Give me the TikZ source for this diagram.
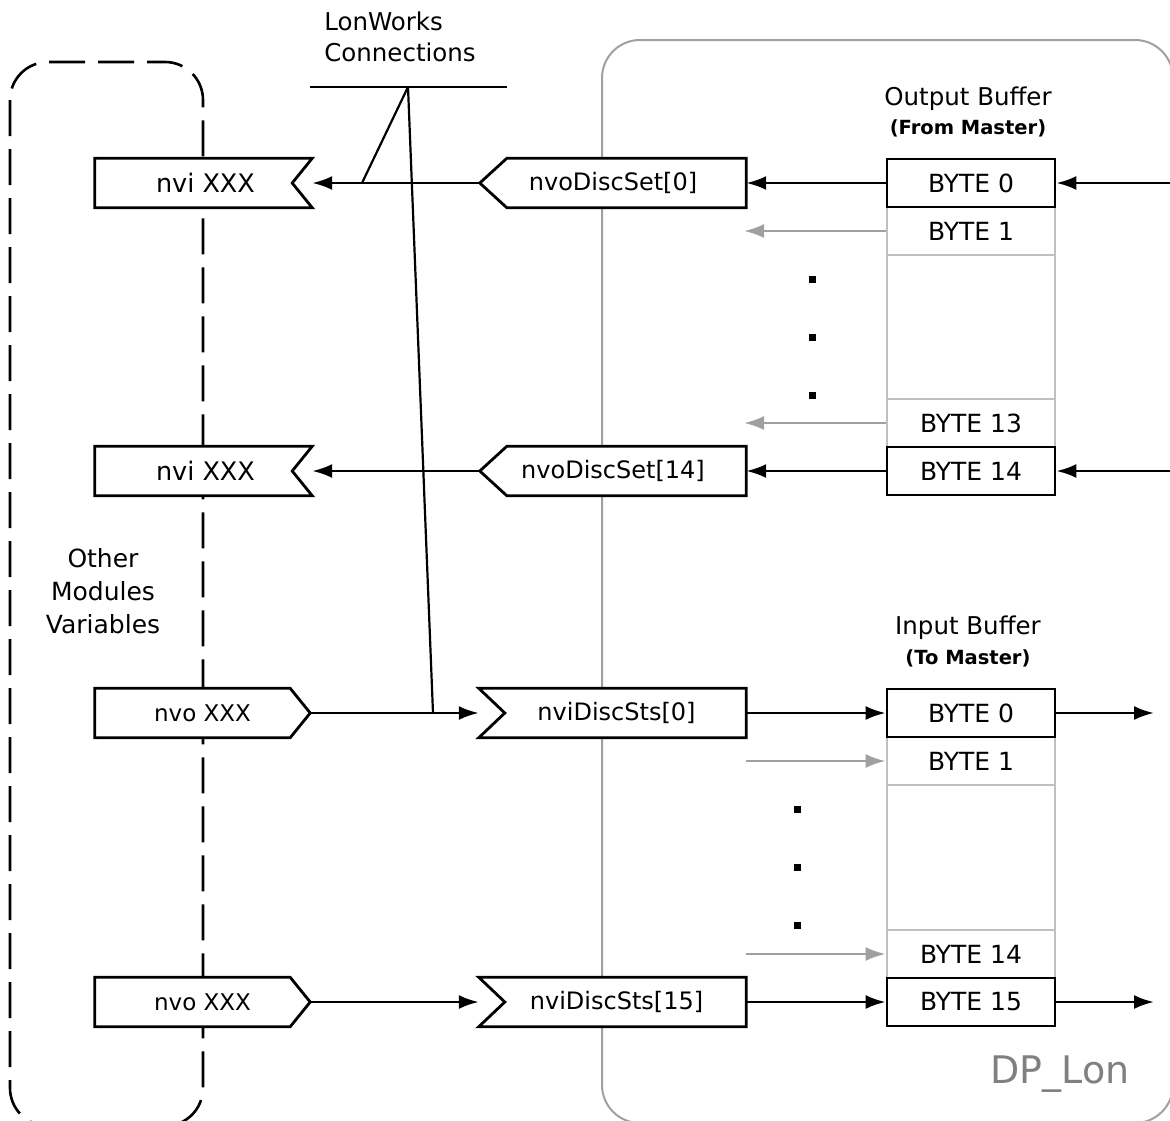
\documentclass[tikz,border=0pt]{standalone}
\usepackage{fontspec}
\setmainfont{DejaVu Sans}
\usetikzlibrary{arrows.meta}
\definecolor{boxgray}{HTML}{A0A0A0}
\definecolor{cellgray}{HTML}{C0C0C0}
\definecolor{dpgray}{HTML}{808080}
\begin{document}
\begin{tikzpicture}[x=1pt,y=-1pt,
  lbl/.style={font=\fontsize{24}{28}\selectfont, inner sep=0pt, minimum height=49pt},
  varline/.style={line width=2.8pt, draw=black, fill=white, line join=miter},
  cellg/.style={draw=cellgray, line width=2.8pt, fill=white, minimum width=168pt, inner sep=0pt, font=\fontsize{25}{29}\selectfont},
  cellb/.style={draw=black, line width=2.8pt, fill=white, minimum width=168pt, minimum height=48pt, inner sep=0pt, font=\fontsize{25}{29}\selectfont},
  arr/.style={line width=2.6pt, draw=black, -{Latex[length=20pt,width=14pt]}},
  garr/.style={line width=2.6pt, draw=boxgray, -{Latex[length=20pt,width=14pt]}},
  wire/.style={line width=2.2pt, draw=black},
  txt/.style={font=\fontsize{24.5}{31}\selectfont, inner sep=0pt},
  subtxt/.style={font=\bfseries\fontsize{19.5}{22}\selectfont, inner sep=0pt},
  dotsq/.style={fill=black}
]
\useasboundingbox (0,0) rectangle (1170,1120);

% containers
\draw[boxgray, line width=2pt, rounded corners=38pt] (602,40) rectangle (1173,1123);
\draw[black, line width=2.6pt, dash pattern=on 36pt off 13pt, rounded corners=38pt] (10,62) rectangle (203,1126);

% texts
\node[txt, align=left] (lwtxt) at (400,37) {LonWorks\\Connections};
\node[txt, font=\fontsize{25}{33}\selectfont, align=center] (other) at (103,591) {Other\\Modules\\Variables};
\node[txt] (obuf) at (968,99) {Output Buffer};
\node[subtxt] (ofrom) at (968,128) {(From Master)};
\node[txt] (ibuf) at (968,628) {Input Buffer};
\node[subtxt] (ito) at (968,658) {(To Master)};
\node[font=\fontsize{38}{42}\selectfont, text=dpgray, inner sep=0pt] (dplon) at (1060,1074) {DP\_Lon};

% LonWorks connection lines
\coordinate (lwL) at (310,87);
\coordinate (lwR) at (507,87);
\coordinate (lwJ) at (408,87);
\coordinate (j1) at (362,183);
\coordinate (j2) at (433,713);
\draw[wire] (lwL) -- (lwR);
\draw[wire] (lwJ) -- (j1);
\draw[wire] (lwJ) -- (j2);

% output side: left variables
\node[lbl, minimum width=217pt] (nviA) at (203.5,183) {};
\node[lbl, minimum width=217pt] (nviB) at (203.5,471) {};
\foreach \n in {nviA,nviB}{
  \draw[varline] (\n.north west) -- (\n.north east) -- ([xshift=-20pt]\n.east) -- (\n.south east) -- (\n.south west) -- cycle;
}
\node[lbl, font=\fontsize{25.5}{29}\selectfont] (nviAt) at ([xshift=2pt]nviA) {nvi XXX};
\node[lbl, font=\fontsize{25.5}{29}\selectfont] (nviBt) at ([xshift=2pt]nviB) {nvi XXX};

% output side: nvoDiscSet
\node[lbl, minimum width=266pt] (setA) at (613,183) {};
\node[lbl, minimum width=266pt] (setB) at (613,471) {};
\foreach \n in {setA,setB}{
  \draw[varline] (\n.west) -- ([xshift=27pt]\n.north west) -- (\n.north east) -- (\n.south east) -- ([xshift=27pt]\n.south west) -- cycle;
}
\node[lbl] (setAt) at (setA) {nvoDiscSet[0]};
\node[lbl] (setBt) at (setB) {nvoDiscSet[14]};

% input side: left variables
\node[lbl, minimum width=215pt] (nvoA) at (202.5,713) {};
\node[lbl, minimum width=215pt] (nvoB) at (202.5,1002) {};
\foreach \n in {nvoA,nvoB}{
  \draw[varline] (\n.north west) -- ([xshift=-20pt]\n.north east) -- (\n.east) -- ([xshift=-20pt]\n.south east) -- (\n.south west) -- cycle;
}
\node[lbl, font=\fontsize{23}{27}\selectfont] (nvoAt) at (nvoA) {nvo XXX};
\node[lbl, font=\fontsize{23}{27}\selectfont] (nvoBt) at (nvoB) {nvo XXX};

% input side: nviDiscSts
\node[lbl, minimum width=267pt] (stsA) at (612.5,713) {};
\node[lbl, minimum width=267pt] (stsB) at (612.5,1002) {};
\foreach \n in {stsA,stsB}{
  \draw[varline] (\n.north west) -- (\n.north east) -- (\n.south east) -- (\n.south west) -- ([xshift=26pt]\n.west) -- cycle;
}
\node[lbl] (stsAt) at ([xshift=4pt]stsA) {nviDiscSts[0]};
\node[lbl] (stsBt) at ([xshift=4pt]stsB) {nviDiscSts[15]};

% output buffer
\node[cellg, minimum height=48pt] (ob1) at (971,231) {BYTE 1};
\node[cellg, minimum height=144pt] (obgap) at (971,327) {};
\node[cellg, minimum height=48pt] (ob13) at (971,423) {BYTE 13};
\node[cellb] (ob0) at (971,183) {BYTE 0};
\node[cellb] (ob14) at (971,471) {BYTE 14};

% input buffer
\node[cellg, minimum height=48pt] (ib1) at (971,761) {BYTE 1};
\node[cellg, minimum height=145pt] (ibgap) at (971,857.5) {};
\node[cellg, minimum height=48pt] (ib14) at (971,954) {BYTE 14};
\node[cellb] (ib0) at (971,713) {BYTE 0};
\node[cellb] (ib15) at (971,1002) {BYTE 15};

% dots
\foreach \yy in {279,337,395}{ \fill[dotsq] (808.5,\yy-3.5) rectangle (815.5,\yy+3.5); }
\foreach \yy in {809,867,925}{ \fill[dotsq] (793.5,\yy-3.5) rectangle (800.5,\yy+3.5); }

% free ends
\coordinate (inR0) at (1170,183);
\coordinate (inR14) at (1170,471);
\coordinate (outR0) at (1154,713);
\coordinate (outR15) at (1154,1002);
\coordinate (g1) at (744,231);
\coordinate (g13) at (744,423);
\coordinate (g2) at (746,761);
\coordinate (g14) at (746,954);

% output arrows
\draw[arr] (inR0) -- (ob0.east);
\draw[arr] (inR14) -- (ob14.east);
\draw[arr] (ob0.west) -- (setA.east);
\draw[arr] (ob14.west) -- (setB.east);
\draw[arr] (setA.west) -- (nviA.east);
\draw[arr] (setB.west) -- (nviB.east);
\draw[garr] (ob1.west) -- (g1);
\draw[garr] (ob13.west) -- (g13);

% input arrows
\draw[arr] (nvoA.east) -- (stsA.west);
\draw[arr] (nvoB.east) -- (stsB.west);
\draw[arr] (stsA.east) -- (ib0.west);
\draw[arr] (stsB.east) -- (ib15.west);
\draw[arr] (ib0.east) -- (outR0);
\draw[arr] (ib15.east) -- (outR15);
\draw[garr] (g2) -- (ib1.west);
\draw[garr] (g14) -- (ib14.west);
\end{tikzpicture}
\end{document}
